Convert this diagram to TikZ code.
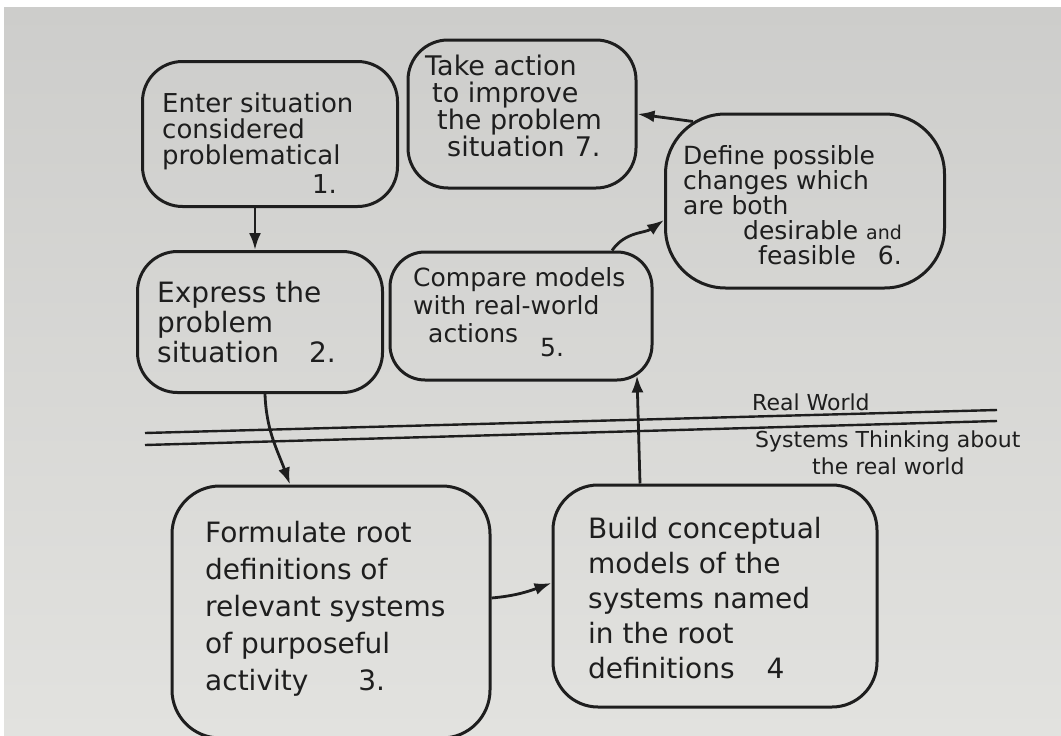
\documentclass[tikz,border=0pt]{standalone}
\usepackage{fontspec}
\setmainfont{DejaVu Sans}
\usetikzlibrary{arrows.meta}
\definecolor{ink}{RGB}{30,30,30}
\definecolor{paperTop}{RGB}{205,205,203}
\definecolor{paperBot}{RGB}{226,226,223}

\begin{document}
\begin{tikzpicture}[x=1pt, y=-1pt, >={Latex[length=17pt,width=12pt]},
    blob/.style={draw=ink, line width=3pt, rounded corners=#1, inner sep=0pt},
    blob/.default=40pt,
    txt/.style={text=ink, align=left, anchor=north west, inner sep=0pt},
    lbl/.style={text=ink, anchor=base west, inner sep=0pt, font=\fontsize{22}{26}\selectfont},
    link/.style={->, draw=ink, line width=2.8pt}]
    \useasboundingbox (0,0) rectangle (1061,736);
    \fill[white] (0,0) rectangle (1061,736);
    \shade[top color=paperTop, bottom color=paperBot] (4,7) rectangle (1061,736);

    \node[blob, minimum width=255pt, minimum height=145pt] (enter) at (270,134) {};
    \node[blob, minimum width=245pt, minimum height=141pt] (express) at (260,322) {};
    \node[blob=48pt, minimum width=318pt, minimum height=252pt] (formulate) at (331,612) {};
    \node[blob=45pt, minimum width=324pt, minimum height=222pt] (build) at (715,596) {};
    \node[blob=35pt, minimum width=262pt, minimum height=128pt] (compare) at (521,316) {};
    \node[blob=60pt, minimum width=279pt, minimum height=174pt] (define) at (805,201) {};
    \node[blob, minimum width=228pt, minimum height=148pt] (takeaction) at (522,114) {};

    \node[txt, font=\fontsize{26}{26}\selectfont] (enterTxt) at (162,93) {Enter situation\\considered\\problematical\\[3pt]\hspace*{150pt}1.};
    \node[txt, font=\fontsize{28}{30}\selectfont] (expressTxt) at (157,281) {Express the\\problem\\situation\hspace{30pt}2.};
    \node[txt, font=\fontsize{28}{37}\selectfont] (formulateTxt) at (205,521) {Formulate root\\definitions of\\relevant systems\\of purposeful\\activity\hspace{50pt}3.};
    \node[txt, font=\fontsize{28}{35}\selectfont] (buildTxt) at (588,517) {Build conceptual\\models of the\\systems named\\in the root\\definitions\hspace{32pt}4};
    \node[txt, font=\fontsize{25}{28}\selectfont] (compareTxt) at (413,267) {Compare models\\with real-world\\\hspace*{15pt}actions\hspace{22pt}\raisebox{-14pt}{5.}};
    \node[txt, font=\fontsize{25}{25}\selectfont] (defineTxt) at (683,145) {Define possible\\changes which\\are both\\\hspace*{60pt}desirable {\fontsize{19}{25}\selectfont and}\\\hspace*{75pt}feasible\hspace{22pt}6.};
    \node[txt, font=\fontsize{27}{27}\selectfont] (takeactionTxt) at (425,55) {Take action\\\hspace*{7pt}to improve\\\hspace*{12pt}the problem\\\hspace*{22pt}situation\hspace{10pt}7.};

    \draw[ink, line width=2.4pt] (145,433) -- (997,410);
    \draw[ink, line width=2.4pt] (145,445) -- (997,421);
    \node[lbl] (realLbl) at (752,410) {Real World};
    \node[lbl] (systemsLbl) at (755,447) {Systems Thinking about};
    \node[lbl] (systemsLbl2) at (812,474) {the real world};

    \draw[link] ([xshift=-15pt]enter.south) -- ([xshift=-5pt]express.north);
    \draw[link] ([xshift=5pt]express.south) to[out=-88, in=110] ([xshift=-41pt]formulate.north);
    \draw[link] ([yshift=14pt]formulate.east) to[out=5, in=200] ([yshift=13pt]build.west);
    \draw[link] ([xshift=-75pt]build.north) -- ([xshift=116pt,yshift=6pt]compare.south);
    \draw[link] ([xshift=91pt]compare.north) to[out=55, in=215] ([yshift=-19pt]define.west);
    \draw[link] ([xshift=29pt,yshift=-9pt]define.north west) -- (takeaction.east);
\end{tikzpicture}
\end{document}
